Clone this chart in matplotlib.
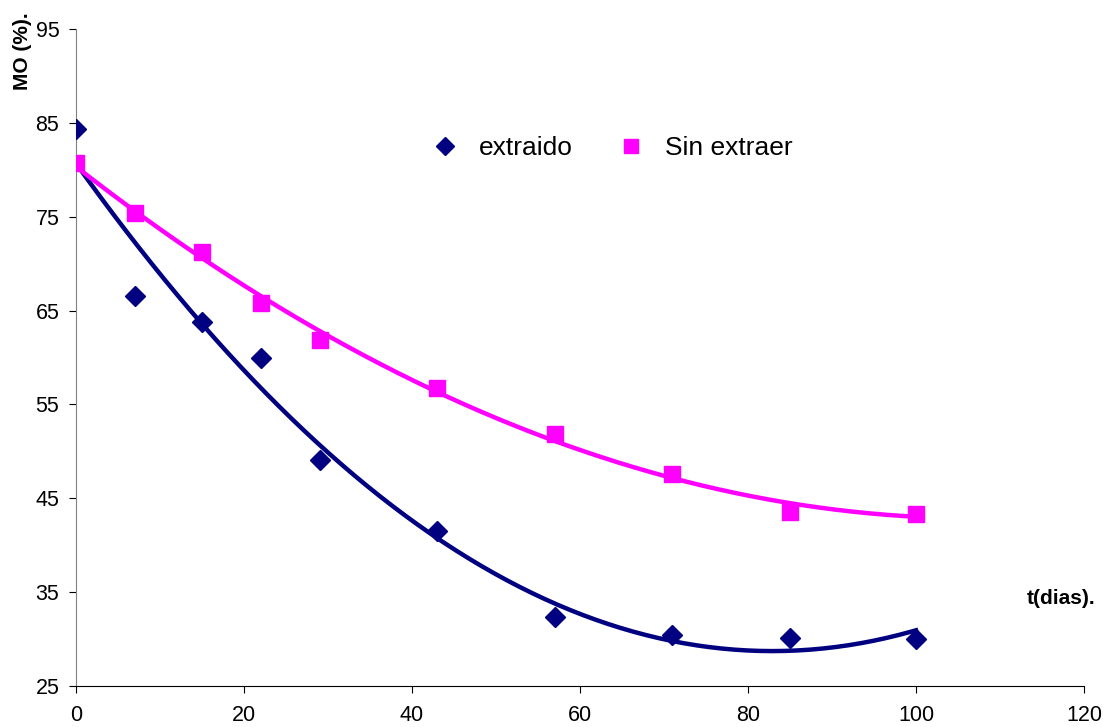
import numpy as np
import matplotlib.pyplot as plt

plt.rcParams['font.family'] = ['Liberation Sans', 'DejaVu Sans']

t = [0, 7, 15, 22, 29, 43, 57, 71, 85, 100]
extraido = [84.3, 66.5, 63.8, 60.0, 49.1, 41.5, 32.3, 30.4, 30.1, 30.0]
sin_extraer = [80.7, 75.4, 71.2, 65.8, 61.9, 56.8, 51.8, 47.6, 43.5, 43.3]

navy = '#000080'
magenta = '#ff00ff'

fig = plt.figure(figsize=(11.03, 7.27), dpi=100)
ax = fig.add_axes([0.0689, 0.0564, 0.9139, 0.9037])

# lineas de tendencia polinomicas (orden 2)
tt = np.linspace(0, 100, 200)
p1 = np.polyfit(t, extraido, 2)
p2 = np.polyfit(t, sin_extraer, 2)
ax.plot(tt, np.polyval(p1, tt), color=navy, lw=3.2, zorder=2)
ax.plot(tt, np.polyval(p2, tt), color=magenta, lw=3.2, zorder=2)

ax.plot(t, extraido, 'D', color=navy, ms=10.5, ls='none', label='extraido', zorder=3)
ax.plot(t, sin_extraer, 's', color=magenta, ms=11, ls='none', label='Sin extraer', zorder=3)

ax.set_xlim(0, 120)
ax.set_ylim(25, 95)
ax.set_xticks(range(0, 121, 20))
ax.set_yticks(range(25, 96, 10))
ax.tick_params(labelsize=15.5, length=5, direction='out')
ax.tick_params(axis='y', pad=7)
ax.tick_params(axis='x', pad=9)
ax.spines['top'].set_visible(False)
ax.spines['right'].set_visible(False)
ax.spines['left'].set_color('#808080')

leg = ax.legend(loc='center', bbox_to_anchor=(0.555, 0.796), bbox_transform=fig.transFigure,
                ncol=2, frameon=False, fontsize=19, handlelength=1, handletextpad=0.8,
                columnspacing=1.7, markerscale=0.9)

fig.text(0.02, 0.929, 'MO (%).', rotation=90, fontsize=15, fontweight='bold',
         ha='center', va='center')
fig.text(0.993, 1 - 598 / 727, 't(dias).', fontsize=15, fontweight='bold',
         ha='right', va='center')

fig.savefig('out.png', dpi=100)
